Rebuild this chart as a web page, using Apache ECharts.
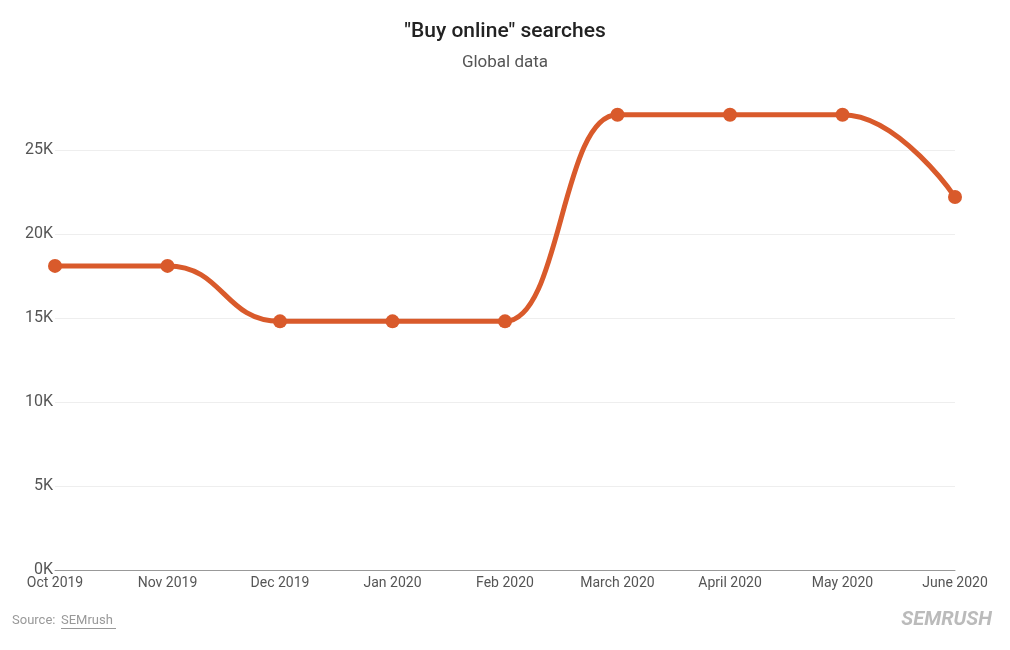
<!DOCTYPE html>
<html><head><meta charset="utf-8">
<script src="https://cdn.jsdelivr.net/npm/echarts@6/dist/echarts.min.js"></script>
<style>html,body{margin:0;background:#fff}#c{width:1010px;height:650px}</style>
</head><body><div id="c"></div>
<script>
const categories = ["Oct 2019","Nov 2019","Dec 2019","Jan 2020","Feb 2020","March 2020","April 2020","May 2020","June 2020"];
const searches = [18100,18100,14800,14800,14800,27100,27100,27100,22200];
const gridValues = [5000,10000,15000,20000,25000];
const chart = echarts.init(document.getElementById('c'));
chart.setOption({
  animation:false,
  title:{text:'"Buy online" searches',subtext:'Global data',left:'center',top:16,itemGap:12,
    textStyle:{fontFamily:'Roboto',fontSize:21,fontWeight:500,color:'#222'},
    subtextStyle:{fontFamily:'Roboto',fontSize:17,color:'#555'}},
  grid:{left:55,right:55,top:99.6,bottom:80},
  xAxis:{type:'category',data:categories,boundaryGap:false,
    axisLine:{lineStyle:{color:'#999'}},axisTick:{show:false},
    axisLabel:{fontFamily:'Roboto',fontSize:14,color:'#555',margin:6}},
  yAxis:{type:'value',min:0,max:28000,interval:5000,
    axisLine:{show:false},axisTick:{show:false},
    splitLine:{show:false},
    axisLabel:{fontFamily:'Roboto',fontSize:16,color:'#555',showMaxLabel:false,
      formatter:v=>(v/1000)+'K',margin:0,align:'right',padding:[0,2,0,0]}},
  series:[{type:'line',data:searches,smooth:0.5,smoothMonotone:'x',
    symbol:'circle',symbolSize:14,z:3,
    lineStyle:{color:'#d95a2b',width:5},itemStyle:{color:'#d95a2b'},
    markLine:{silent:true,symbol:'none',label:{show:false},z:1,
      lineStyle:{color:'#eee',type:'solid',width:1},
      data:gridValues.map(v=>({yAxis:v}))}}],
  graphic:[
    {type:'text',left:12,top:614,style:{text:'Source: ',fontFamily:'Roboto',fontSize:13,fill:'#999'}},
    {type:'text',left:61,top:614,style:{text:'SEMrush',fontFamily:'Roboto',fontSize:13,fill:'#999'}},
    {type:'rect',left:61,top:628,shape:{width:55,height:1},style:{fill:'#999'}},
    {type:'text',right:18,top:610,style:{text:'SEMRUSH',fontFamily:'Roboto',fontSize:20,fontStyle:'italic',fontWeight:'bold',fill:'#bbb'}}
  ]
});
</script></body></html>
